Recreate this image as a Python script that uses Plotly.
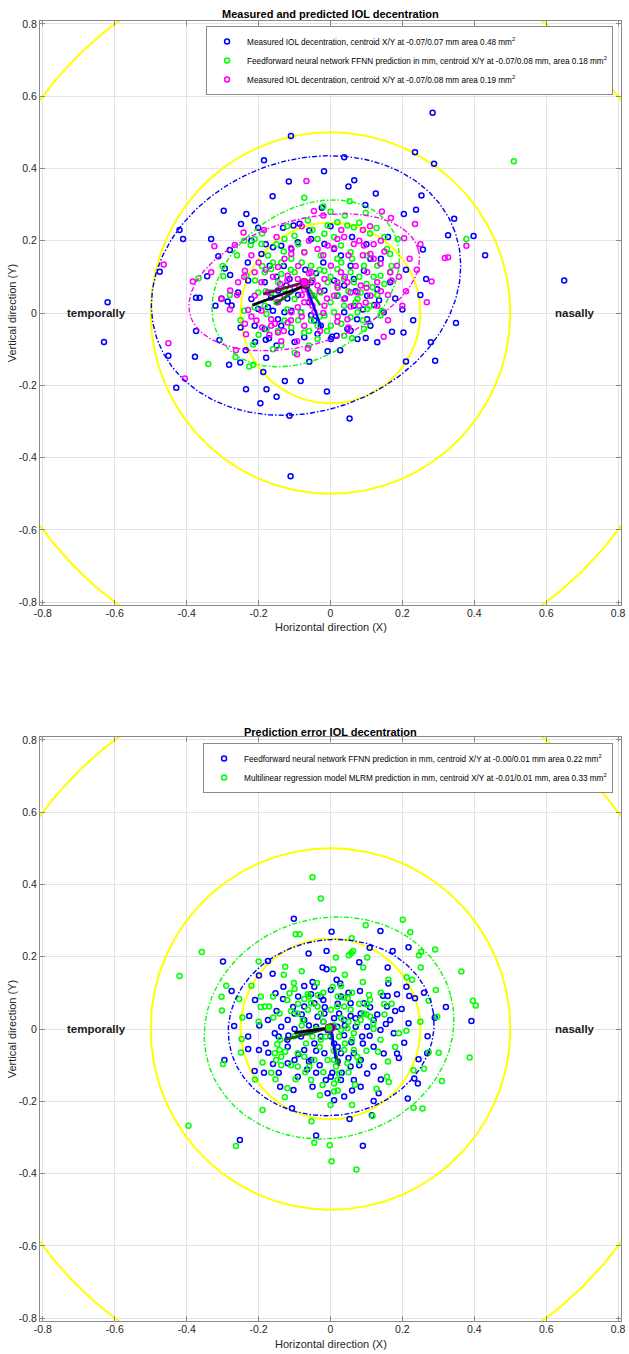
import numpy as np
import plotly.graph_objects as go

# ---------------- data ----------------
TICKS = [-0.8, -0.6, -0.4, -0.2, 0, 0.2, 0.4, 0.6, 0.8]
TICK_LABELS = ["-0.8", "-0.6", "-0.4", "-0.2", "0", "0.2", "0.4", "0.6", "0.8"]

TOP_TITLE = "Measured and predicted IOL decentration"
BOTTOM_TITLE = "Prediction error IOL decentration"

TOP_NAMES = [
    "Measured IOL decentration, centroid X/Y at -0.07/0.07 mm area 0.48 mm<sup>2</sup>",
    "Feedforward neural network FFNN prediction in mm, centroid X/Y at -0.07/0.08 mm, area 0.18 mm<sup>2</sup>",
    "Measured IOL decentration, centroid X/Y at -0.07/0.08 mm area 0.19 mm<sup>2</sup>",
]
BOTTOM_NAMES = [
    "Feedforward neural network FFNN prediction in mm, centroid X/Y at -0.00/0.01 mm area 0.22 mm<sup>2</sup>",
    "Multilinear regression model MLRM prediction in mm, centroid X/Y at -0.01/0.01 mm, area 0.33 mm<sup>2</sup>",
]

# top panel: measured (blue), FFNN prediction (green), measured (magenta)
TOP_BLUE = [
    (0.284, 0.554), (-0.110, 0.490), (0.650, 0.090), (-0.620, 0.030), (-0.630, -0.080),
    (0.430, 0.160), (-0.185, 0.423), (0.038, 0.431), (0.235, 0.445), (0.288, 0.413),
    (-0.018, 0.392), (-0.116, 0.364), (0.050, 0.350), (0.066, 0.367), (-0.161, 0.323),
    (0.126, 0.331), (0.253, 0.325), (0.097, 0.299), (-0.024, 0.291), (-0.297, 0.283),
    (-0.234, 0.274), (-0.211, 0.256), (-0.249, 0.246), (-0.201, 0.236), (-0.132, 0.236),
    (-0.103, 0.242), (-0.086, 0.247), (-0.059, 0.228), (0.204, 0.274), (0.238, 0.286),
    (0.344, 0.261), (0.327, 0.215), (0.398, 0.213), (0.257, 0.176), (-0.420, 0.230),
    (-0.410, 0.205), (-0.332, 0.205), (-0.312, 0.157), (-0.280, 0.174), (-0.475, 0.114),
    (-0.294, 0.123), (-0.343, 0.102), (-0.374, 0.042), (-0.364, 0.042), (-0.303, 0.040),
    (-0.279, 0.105), (-0.286, 0.032), (-0.275, 0.021), (-0.374, -0.050), (-0.377, -0.121),
    (-0.451, -0.118), (-0.429, -0.207), (-0.282, -0.143), (-0.251, -0.137), (-0.236, -0.103),
    (-0.309, -0.075), (-0.187, -0.163), (-0.179, -0.124), (-0.235, -0.211), (-0.178, -0.211),
    (-0.150, -0.232), (-0.195, -0.250), (-0.127, -0.188), (-0.083, -0.188), (-0.114, -0.284),
    (-0.111, -0.452), (-0.010, -0.217), (0.053, -0.292), (-0.059, -0.135), (-0.008, -0.106),
    (0.027, -0.103), (-0.180, -0.074), (-0.171, -0.070), (0.098, -0.069), (0.171, -0.052),
    (0.203, -0.054), (0.291, -0.132), (0.210, -0.134), (0.279, -0.081), (0.349, -0.028),
    (0.266, 0.094), (0.135, 0.035), (0.122, 0.022), (0.102, -0.017), (0.074, -0.017),
    (0.056, -0.049), (0.017, -0.063), (0.004, -0.066), (-0.027, -0.035), (-0.045, -0.021),
    (-0.054, -0.006), (-0.082, 0.002), (-0.109, 0.006), (-0.128, 0.002), (-0.146, -0.017),
    (-0.160, 0.006), (-0.174, 0.016), (-0.165, 0.043), (-0.146, 0.062), (-0.123, 0.076),
    (-0.114, 0.094), (-0.054, 0.085), (-0.017, 0.062), (0.019, 0.048), (0.038, 0.076),
    (0.065, 0.094), (0.093, 0.117), (0.111, 0.150), (0.056, 0.131), (0.029, 0.159),
    (0.010, 0.177), (-0.017, 0.191), (-0.054, 0.205), (-0.091, 0.196), (-0.109, 0.177),
    (-0.137, 0.186), (-0.160, 0.182), (-0.192, 0.163), (-0.169, 0.131), (-0.183, 0.085),
    (-0.229, 0.090), (-0.257, 0.057), (-0.220, 0.039), (-0.201, 0.011), (-0.211, -0.035),
    (-0.183, -0.044), (-0.137, -0.035), (-0.109, -0.054), (-0.073, -0.067), (-0.036, -0.058),
    (0.001, -0.072), (0.038, 0.002), (0.065, 0.020), (0.102, 0.048), (0.130, 0.066),
    (0.166, 0.085), (0.148, 0.002), (0.111, -0.035), (0.075, -0.072), (0.047, -0.044),
    (0.130, -0.081), (-0.060, 0.030), (-0.040, 0.110), (-0.020, 0.140), (0.010, 0.090),
    (0.040, 0.040), (0.070, 0.060), (0.090, 0.010), (-0.090, 0.050), (-0.120, 0.040),
    (-0.150, 0.100), (-0.180, 0.190), (-0.220, 0.200), (-0.130, 0.130), (-0.070, 0.120),
    (0.000, 0.240), (0.060, 0.210), (0.100, 0.190), (0.140, 0.150), (0.180, 0.040),
    (0.200, 0.010), (-0.100, -0.080), (-0.150, -0.090), (-0.210, -0.080), (-0.250, -0.040),
    (-0.320, 0.020), (-0.230, 0.140), (0.160, 0.210), (0.210, 0.120), (0.230, -0.020),
    (0.250, 0.050),
]
TOP_GREEN = [
    (0.510, 0.420), (-0.073, 0.319), (-0.020, 0.295), (0.053, 0.309), (0.098, 0.277),
    (0.128, 0.235), (0.187, 0.205), (0.157, 0.177), (0.166, 0.163), (0.378, 0.205),
    (0.166, 0.113), (0.117, 0.071), (0.143, 0.006), (0.139, -0.007), (0.093, -0.044),
    (0.056, -0.012), (-0.036, -0.072), (-0.137, -0.090), (-0.215, -0.087), (-0.264, -0.122),
    (-0.226, -0.148), (-0.215, -0.143), (-0.340, -0.141), (-0.367, 0.096), (-0.298, 0.102),
    (-0.240, 0.200), (-0.222, 0.188), (-0.211, 0.205), (-0.192, 0.191), (-0.234, 0.103),
    (-0.240, 0.006), (-0.128, 0.205), (-0.100, 0.214), (-0.063, 0.256), (-0.036, 0.205),
    (-0.017, 0.219), (0.019, 0.251), (0.047, 0.242), (0.065, 0.237), (-0.008, 0.242),
    (0.010, 0.210), (0.029, 0.187), (0.056, 0.168), (0.019, 0.150), (-0.027, 0.159),
    (-0.073, 0.168), (-0.109, 0.150), (-0.137, 0.140), (-0.165, 0.122), (-0.183, 0.113),
    (-0.137, 0.108), (-0.100, 0.113), (-0.054, 0.131), (-0.017, 0.117), (0.019, 0.122),
    (0.056, 0.113), (0.093, 0.131), (0.102, 0.159), (0.130, 0.131), (0.139, 0.103),
    (0.111, 0.048), (0.075, 0.039), (0.038, 0.020), (0.010, 0.002), (-0.017, -0.007),
    (-0.054, -0.021), (-0.082, 0.002), (-0.100, 0.039), (-0.128, 0.066), (-0.146, 0.085),
    (-0.165, 0.057), (-0.183, 0.020), (-0.201, 0.057), (-0.174, 0.159), (-0.045, 0.048),
    (-0.027, 0.057), (-0.008, 0.085), (0.019, 0.076), (0.038, 0.094), (0.065, 0.085),
    (0.084, 0.057), (-0.036, -0.035), (-0.073, -0.054), (0.001, -0.035), (0.038, -0.063),
    (0.075, 0.002), (0.102, 0.011), (-0.211, 0.016), (-0.178, -0.003), (-0.128, -0.021),
    (-0.109, -0.040), (-0.146, -0.049), (-0.178, -0.044), (-0.050, 0.100), (-0.030, 0.120),
    (0.000, 0.100), (0.030, 0.140), (0.060, 0.150), (0.080, 0.100), (0.100, 0.080),
    (0.120, 0.100), (-0.080, 0.140), (-0.110, 0.120), (-0.130, 0.170), (-0.150, 0.190),
    (-0.160, 0.140), (-0.190, 0.130), (-0.210, 0.090), (-0.180, 0.060), (-0.150, 0.030),
    (-0.120, 0.010), (-0.090, -0.020), (-0.060, -0.050), (-0.030, -0.010), (0.000, 0.030),
    (0.020, 0.050), (0.050, 0.060), (0.070, 0.030), (0.090, -0.020), (0.110, 0.020),
    (0.130, 0.050), (0.150, 0.080), (0.170, 0.130), (0.150, 0.210), (0.110, 0.220),
    (0.080, 0.250), (0.040, 0.270), (0.000, 0.280), (-0.050, 0.230), (-0.090, 0.190),
    (-0.120, 0.240), (-0.190, 0.220), (-0.260, 0.160), (-0.280, 0.050), (-0.250, -0.020),
    (-0.200, -0.060), (-0.160, -0.100), (-0.100, -0.110), (-0.060, -0.090), (-0.010, -0.050),
    (0.030, -0.030), (0.060, -0.070), (-0.300, 0.130),
]
TOP_MAGENTA = [
    (-0.067, 0.365), (-0.046, 0.282), (0.143, 0.281), (0.168, 0.263), (0.235, 0.246),
    (0.205, 0.207), (0.378, 0.186), (0.318, 0.152), (0.327, 0.154), (0.281, 0.087),
    (0.268, 0.030), (0.148, -0.066), (-0.464, 0.134), (-0.323, 0.185), (-0.332, 0.113),
    (-0.383, 0.087), (-0.266, 0.188), (-0.242, 0.223), (-0.185, 0.230), (-0.304, 0.039),
    (-0.279, 0.062), (-0.451, -0.084), (-0.405, -0.181), (-0.263, -0.103), (-0.235, -0.059),
    (-0.229, 0.008), (-0.206, -0.021), (-0.137, -0.078), (-0.093, -0.078), (-0.063, -0.098),
    (-0.093, -0.114), (-0.029, -0.050), (0.019, -0.024), (0.056, 0.018), (0.098, 0.029),
    (0.075, 0.057), (0.047, 0.085), (0.029, 0.113), (0.001, 0.131), (-0.017, 0.094),
    (-0.036, 0.076), (-0.054, 0.048), (-0.073, 0.030), (-0.091, 0.016), (-0.109, 0.002),
    (-0.128, 0.048), (-0.146, 0.030), (-0.165, -0.017), (-0.155, -0.030), (-0.174, 0.057),
    (-0.192, 0.085), (-0.211, 0.113), (-0.146, 0.127), (-0.128, 0.150), (-0.109, 0.163),
    (-0.073, 0.168), (-0.036, 0.177), (-0.008, 0.187), (0.019, 0.205), (0.038, 0.210),
    (0.065, 0.191), (0.093, 0.187), (0.111, 0.163), (0.120, 0.150), (0.139, 0.136),
    (0.166, 0.113), (0.185, 0.131), (0.102, 0.113), (0.130, 0.085), (0.019, 0.085),
    (-0.054, 0.113), (-0.091, 0.094), (-0.119, 0.103), (-0.073, 0.066), (-0.017, 0.020),
    (0.010, 0.048), (0.038, 0.039), (0.056, 0.057), (0.084, 0.076), (0.111, 0.048),
    (-0.146, -0.054), (-0.119, -0.026), (-0.165, -0.035), (0.047, -0.017), (-0.073, -0.035),
    (-0.045, 0.002), (-0.257, 0.085), (-0.238, 0.117), (-0.211, 0.048), (-0.192, 0.006),
    (-0.238, -0.030), (0.190, 0.100), (0.160, 0.050), (0.200, 0.020), (0.220, 0.150),
    (0.140, 0.200), (0.090, 0.230), (-0.050, 0.090), (-0.030, 0.060), (-0.010, 0.040),
    (0.020, 0.070), (0.040, 0.100), (0.070, 0.130), (0.090, 0.160), (0.120, 0.190),
    (0.150, 0.170), (0.170, 0.090), (0.140, 0.060), (0.100, 0.070), (0.080, 0.020),
    (0.050, -0.040), (0.020, -0.010), (-0.020, 0.000), (-0.050, 0.020), (-0.080, 0.050),
    (-0.100, 0.070), (-0.120, 0.090), (-0.140, 0.080), (-0.160, 0.100), (-0.180, 0.120),
    (-0.200, 0.140), (-0.220, 0.160), (-0.240, 0.100), (-0.260, 0.050), (-0.280, 0.010),
    (-0.220, -0.010), (-0.190, -0.040), (-0.170, -0.060), (-0.130, -0.050), (-0.110, -0.020),
    (-0.080, -0.010), (-0.060, 0.110), (-0.090, 0.130), (-0.110, 0.180), (-0.150, 0.210),
    (-0.060, 0.200), (-0.020, 0.160), (0.010, 0.180), (0.050, 0.160), (0.080, 0.200),
    (0.110, 0.240), (0.030, 0.230), (-0.080, 0.240), (-0.020, 0.270), (0.130, 0.020),
    (0.160, -0.020), (0.210, 0.060), (0.240, 0.120), (0.250, 0.190),
]

# bottom panel: prediction errors FFNN (blue), MLRM (green)
BOTTOM_BLUE = [
    (-0.102, 0.305), (0.003, 0.269), (0.139, 0.271), (0.109, 0.225), (0.173, 0.216),
    (0.217, 0.226), (-0.299, 0.187), (-0.174, 0.188), (-0.199, 0.148), (-0.161, 0.153),
    (-0.061, 0.209), (-0.011, 0.216), (-0.022, 0.170), (-0.011, 0.165), (0.080, 0.185),
    (0.159, 0.170), (-0.275, 0.105), (-0.268, 0.008), (-0.295, -0.086), (-0.226, 0.036),
    (-0.198, 0.010), (-0.229, -0.055), (-0.199, -0.058), (-0.211, -0.116), (-0.185, -0.121),
    (-0.144, -0.121), (-0.160, -0.097), (-0.132, 0.083), (-0.104, 0.061), (-0.131, 0.117),
    (-0.153, 0.099), (-0.054, 0.096), (-0.073, 0.119), (-0.045, 0.117), (0.017, 0.136),
    (0.027, 0.126), (0.082, 0.105), (0.161, 0.126), (0.146, 0.092), (0.159, 0.091),
    (0.185, 0.096), (0.211, 0.117), (0.219, 0.091), (0.235, 0.085), (0.321, 0.061),
    (0.392, 0.022), (0.290, 0.031), (0.198, 0.055), (0.217, 0.016), (0.154, 0.014),
    (0.205, -0.038), (0.185, -0.068), (0.148, -0.068), (0.269, -0.067), (0.245, -0.084),
    (0.233, -0.137), (0.243, -0.151), (0.215, -0.192), (0.134, -0.178), (0.120, -0.199),
    (0.115, -0.239), (0.090, -0.323), (0.053, -0.249), (-0.040, -0.295), (-0.252, -0.307),
    (-0.107, -0.219), (-0.103, -0.169), (-0.173, -0.066), (-0.144, -0.021), (-0.117, -0.018),
    (-0.065, -0.112), (-0.040, -0.121), (0.005, -0.121), (0.031, -0.121), (-0.013, -0.141),
    (0.001, -0.132), (0.058, -0.037), (0.038, -0.017), (0.088, -0.021), (0.109, -0.019),
    (0.070, 0.006), (0.056, 0.036), (0.024, 0.043), (0.010, 0.030), (-0.016, 0.060),
    (-0.040, 0.006), (-0.073, 0.025), (-0.082, -0.021), (-0.045, -0.040), (-0.017, -0.067),
    (-0.027, -0.021), (0.010, -0.040), (0.029, -0.067), (0.065, -0.067), (0.084, -0.086),
    (0.120, -0.049), (0.139, -0.003), (0.120, 0.025), (0.102, 0.006), (0.084, 0.043),
    (0.056, 0.071), (0.029, 0.090), (0.001, 0.108), (-0.027, 0.090), (-0.045, 0.071),
    (-0.073, 0.062), (-0.100, 0.043), (-0.119, 0.025), (-0.137, 0.006), (-0.155, -0.012),
    (-0.119, -0.049), (-0.100, -0.086), (-0.073, -0.058), (-0.054, -0.086), (-0.008, -0.003),
    (0.019, 0.006), (0.038, 0.025), (-0.036, 0.034), (-0.017, 0.043), (0.093, 0.071),
    (0.157, 0.062), (0.120, -0.104), (0.102, -0.123), (0.056, -0.104), (0.029, -0.141),
    (-0.008, -0.178), (0.010, -0.197), (-0.091, -0.132), (-0.119, -0.095), (-0.174, 0.025),
    (-0.229, -0.021), (0.065, -0.141), (0.084, -0.160), (0.038, -0.187), (0.176, -0.012),
    (0.166, 0.025), (-0.060, 0.010), (-0.040, -0.060), (-0.020, 0.020), (0.000, -0.020),
    (0.020, -0.050), (0.040, 0.010), (0.070, 0.030), (0.090, -0.040), (0.110, 0.060),
    (0.130, 0.040), (-0.080, 0.040), (-0.100, 0.000), (-0.120, -0.030), (-0.090, -0.070),
    (-0.060, -0.090), (-0.030, -0.100), (0.020, -0.090), (0.050, -0.080), (0.080, -0.100),
    (-0.020, 0.080), (0.020, 0.070), (0.050, 0.100), (-0.050, 0.130), (-0.090, 0.090),
    (-0.150, 0.050), (-0.180, -0.040), (-0.210, 0.080), (0.180, 0.050), (0.190, -0.080),
    (0.140, -0.140), (0.060, -0.170), (-0.050, -0.160), (-0.140, -0.160), (0.260, 0.100),
    (0.270, -0.020),
]
BOTTOM_GREEN = [
    (-0.050, 0.420), (-0.027, 0.361), (-0.420, 0.147), (-0.395, -0.268), (-0.358, 0.213),
    (-0.097, 0.262), (-0.086, 0.262), (0.059, 0.251), (0.098, 0.287), (0.201, 0.302),
    (0.222, 0.268), (0.291, 0.220), (0.252, 0.213), (0.246, 0.204), (0.063, 0.216),
    (0.058, 0.210), (0.051, 0.204), (0.015, 0.198), (0.102, 0.198), (0.091, 0.170),
    (0.008, 0.165), (-0.126, 0.172), (-0.200, 0.187), (-0.290, 0.120), (-0.303, 0.089),
    (-0.254, 0.083), (-0.302, 0.051), (-0.245, 0.032), (-0.247, -0.028), (-0.249, -0.065),
    (-0.299, -0.097), (-0.189, -0.093), (-0.165, -0.121), (-0.153, -0.139), (-0.097, -0.139),
    (-0.120, -0.164), (-0.127, -0.189), (-0.189, -0.224), (-0.263, -0.324), (-0.053, -0.255),
    (-0.045, -0.315), (-0.002, -0.322), (0.003, -0.366), (0.072, -0.389), (0.117, -0.241),
    (0.010, -0.173), (-0.029, -0.183), (-0.022, -0.155), (0.068, -0.154), (0.128, -0.165),
    (0.157, -0.132), (0.162, -0.147), (0.231, -0.114), (0.256, -0.220), (0.231, -0.218),
    (0.310, -0.144), (0.387, -0.079), (0.301, -0.066), (0.273, -0.064), (0.396, 0.078),
    (0.404, 0.065), (0.364, 0.159), (0.293, 0.108), (0.273, 0.078), (0.297, 0.034),
    (0.212, 0.143), (0.227, 0.136), (0.251, 0.170), (0.161, 0.136), (0.149, 0.069),
    (0.190, -0.012), (0.211, -0.005), (0.150, 0.040), (0.139, -0.030), (0.132, -0.063),
    (0.107, 0.094), (0.110, 0.080), (0.102, 0.068), (0.048, 0.085), (0.038, 0.087),
    (0.029, 0.119), (0.006, 0.116), (-0.038, 0.127), (-0.035, 0.094), (-0.063, 0.096),
    (-0.073, 0.083), (-0.102, 0.127), (-0.100, 0.111), (-0.114, 0.099), (-0.120, 0.080),
    (-0.194, 0.090), (-0.194, 0.061), (-0.183, 0.062), (-0.171, 0.062), (-0.159, 0.032),
    (-0.142, 0.043), (-0.148, -0.042), (-0.142, -0.058), (-0.155, -0.067), (-0.137, -0.077),
    (-0.126, -0.063), (-0.091, -0.067), (-0.068, -0.040), (-0.050, -0.021), (-0.027, -0.030),
    (-0.013, -0.021), (0.024, -0.021), (0.029, -0.003), (0.047, 0.002), (0.065, -0.012),
    (0.074, 0.016), (0.084, 0.025), (0.093, 0.043), (0.111, 0.034), (0.119, 0.016),
    (0.010, -0.086), (0.015, -0.104), (0.024, -0.123), (0.019, -0.141), (0.010, -0.151),
    (0.047, -0.095), (0.065, -0.058), (0.074, -0.077), (0.038, -0.058), (-0.008, -0.086),
    (-0.045, -0.086), (-0.073, -0.077), (-0.091, -0.104), (-0.059, -0.104), (-0.054, -0.141),
    (-0.077, 0.025), (-0.091, 0.043), (-0.063, 0.053), (-0.054, 0.071), (-0.036, 0.062),
    (-0.027, 0.043), (0.001, 0.053), (0.019, 0.062), (0.038, 0.062), (0.056, 0.053),
    (-0.151, -0.086), (-0.137, -0.100), (-0.040, 0.000), (-0.020, 0.020), (0.010, 0.010),
    (0.030, 0.030), (0.050, 0.020), (0.060, -0.030), (0.040, -0.040), (0.010, -0.060),
    (-0.030, -0.050), (-0.060, -0.010), (-0.080, 0.010), (-0.100, -0.020), (-0.110, 0.050),
    (-0.090, 0.070), (-0.060, 0.090), (-0.020, 0.100), (0.020, 0.090), (0.060, 0.100),
    (0.080, 0.070), (0.100, 0.040), (0.120, 0.000), (0.100, -0.060), (0.080, -0.090),
    (0.050, -0.120), (0.020, -0.170), (-0.020, -0.120), (-0.070, -0.120), (-0.110, -0.100),
    (-0.140, -0.030), (-0.160, 0.090), (-0.130, 0.150), (-0.080, 0.160), (0.040, 0.150),
    (0.090, 0.130), (0.140, 0.100), (0.170, 0.070), (0.180, -0.050), (0.160, -0.090),
    (-0.200, 0.020), (-0.220, 0.120), (0.250, 0.020), (0.260, -0.110), (-0.210, -0.140),
    (0.000, -0.210), (0.060, -0.210),
]

# fitted ellipses (centre, semi-axes, tilt)
TOP_CENTRES = [(-0.068, 0.076), (-0.069, 0.082), (-0.073, 0.085)]
TOP_SEMI_MAJOR = [0.440, 0.283, 0.330]
TOP_SEMI_MINOR = [0.347, 0.203, 0.173]
TOP_TILT_DEG = [20, 34, 16]
BOTTOM_CENTRES = [(0.002, 0.004), (-0.004, 0.003)]
BOTTOM_SEMI_MAJOR = [0.287, 0.350]
BOTTOM_SEMI_MINOR = [0.243, 0.304]
BOTTOM_TILT_DEG = [8, 15]
AXIS_VECTOR_SCALE = 0.36

REFERENCE_RADII = [0.25, 0.5, 1.0]

TOP_COLORS = ["#0000ff", "#00ff00", "#ff00ff"]
BOTTOM_COLORS = ["#0000ff", "#00ff00"]
TOP_MAJOR_COLORS = ["#000022", "#1a6a1a", "#6a1248"]
TOP_MINOR_COLORS = ["#0000ff", "#00c000", "#e000e0"]
BOTTOM_MAJOR_COLORS = ["#000010", "#1a5a1a"]
BOTTOM_MINOR_COLORS = ["#0000ff", "#1a7a1a"]

# ---------------- figure ----------------
W, H = 629, 1354
ML, MR, MT, MB = 40, 3, 21, 33
PH = H - MT - MB
PW = W - ML - MR
AX_H = 584


def py2paper(py):
    return (H - MB - py) / PH


def px2paper(px):
    return (px - ML) / PW


fig = go.Figure()


def ellipse(c, a, b, tilt):
    t = np.linspace(0, 2 * np.pi, 241)
    th = np.deg2rad(tilt)
    ex = a * np.cos(t)
    ey = b * np.sin(t)
    return c[0] + ex * np.cos(th) - ey * np.sin(th), c[1] + ex * np.sin(th) + ey * np.cos(th)


def add_panel(xa, ya, series, names, colors, centres, amaj, amin, tilts,
              major_cols, minor_cols, legend):
    t = np.linspace(0, 2 * np.pi, 361)
    for r in REFERENCE_RADII:
        fig.add_trace(go.Scatter(x=r * np.cos(t), y=r * np.sin(t), mode="lines",
                                 line=dict(color="#ffff00", width=2), showlegend=False,
                                 hoverinfo="skip", xaxis=xa, yaxis=ya))
    for pts, name, col in zip(series, names, colors):
        arr = np.array(pts)
        fig.add_trace(go.Scatter(x=arr[:, 0], y=arr[:, 1], mode="markers", name=name,
                                 marker=dict(symbol="circle-open", size=5, color=col,
                                             line=dict(width=1.5, color=col)),
                                 legend=legend, xaxis=xa, yaxis=ya))
    for c, a, b, tl, col in zip(centres, amaj, amin, tilts, colors):
        ex, ey = ellipse(c, a, b, tl)
        fig.add_trace(go.Scatter(x=ex, y=ey, mode="lines", showlegend=False,
                                 line=dict(color=col, width=1.4, dash="5px,2px,1.5px,2px"),
                                 hoverinfo="skip", xaxis=xa, yaxis=ya))
    items = list(zip(centres, amaj, amin, tilts, major_cols, minor_cols))
    for c, a, b, tl, cmaj, cmin in reversed(items):
        th = np.deg2rad(tl)
        la, lb = a * AXIS_VECTOR_SCALE, b * AXIS_VECTOR_SCALE
        fig.add_trace(go.Scatter(x=[c[0], c[0] + lb * np.sin(th)], y=[c[1], c[1] - lb * np.cos(th)],
                                 mode="lines", line=dict(color=cmin, width=2.4), showlegend=False,
                                 hoverinfo="skip", xaxis=xa, yaxis=ya))
        fig.add_trace(go.Scatter(x=[c[0], c[0] - la * np.cos(th)], y=[c[1], c[1] - la * np.sin(th)],
                                 mode="lines", line=dict(color=cmaj, width=2.8), showlegend=False,
                                 hoverinfo="skip", xaxis=xa, yaxis=ya))
    for c, col in zip(centres, colors):
        fig.add_trace(go.Scatter(x=[c[0]], y=[c[1]], mode="markers", showlegend=False,
                                 marker=dict(size=8, color=col, line=dict(width=1, color="#c00060")),
                                 hoverinfo="skip", xaxis=xa, yaxis=ya))


add_panel("x", "y", [TOP_BLUE, TOP_GREEN, TOP_MAGENTA], TOP_NAMES, TOP_COLORS, TOP_CENTRES,
          TOP_SEMI_MAJOR, TOP_SEMI_MINOR, TOP_TILT_DEG, TOP_MAJOR_COLORS, TOP_MINOR_COLORS, "legend")
add_panel("x2", "y2", [BOTTOM_BLUE, BOTTOM_GREEN], BOTTOM_NAMES, BOTTOM_COLORS, BOTTOM_CENTRES,
          BOTTOM_SEMI_MAJOR, BOTTOM_SEMI_MINOR, BOTTOM_TILT_DEG, BOTTOM_MAJOR_COLORS,
          BOTTOM_MINOR_COLORS, "legend2")

FONT = "Liberation Sans, Arial, Helvetica, sans-serif"
RNG = [-0.808, 0.808]
axis_common = dict(range=RNG, tickvals=TICKS, ticktext=TICK_LABELS, showgrid=True,
                   gridcolor="#e3e3e3", gridwidth=1, zeroline=False, showline=True,
                   linecolor="#8a8a8a", linewidth=1, mirror="allticks", ticks="inside",
                   ticklen=5, tickcolor="#8a8a8a", ticklabeloverflow="allow",
                   tickfont=dict(size=10.5, color="#262626", family=FONT),
                   fixedrange=True)

top_dom = [1 - AX_H / PH, 1]
bot_dom = [0, AX_H / PH]

legend_common = dict(xanchor="right", yanchor="top", bgcolor="white", bordercolor="#8a8a8a",
                     borderwidth=1, font=dict(size=8.2, family=FONT, color="#000000"),
                     itemsizing="trace", tracegroupgap=0, itemwidth=30)

fig.update_layout(
    width=W, height=H, margin=dict(l=ML, r=MR, t=MT, b=MB),
    paper_bgcolor="white", plot_bgcolor="white",
    font=dict(family=FONT, color="#000000"),
    xaxis=dict(domain=[0, 1], anchor="y", ticklabelstandoff=-2, **axis_common),
    yaxis=dict(domain=top_dom, anchor="x", **axis_common),
    xaxis2=dict(domain=[0, 1], anchor="y2", ticklabelstandoff=-2, **axis_common),
    yaxis2=dict(domain=bot_dom, anchor="x2", **axis_common),
    legend=dict(x=px2paper(618), y=py2paper(26), **legend_common),
    legend2=dict(x=px2paper(618), y=py2paper(743), **legend_common),
    showlegend=True,
)


def label(text, px, py, size, color, angle=0):
    return dict(text=text, x=px2paper(px), y=py2paper(py), xref="paper", yref="paper",
                xanchor="center", yanchor="middle", showarrow=False, textangle=angle,
                font=dict(size=size, family=FONT, color=color))


ann = [
    label("<b>" + TOP_TITLE + "</b>", 333, 14, 11, "#000"),
    label("<b>" + BOTTOM_TITLE + "</b>", 333, 732, 11, "#000"),
    label("Horizontal direction (X)", 333, 627, 11, "#262626"),
    label("Horizontal direction (X)", 333, 1344, 11, "#262626"),
    label("Vertical direction (Y)", 12, 313, 11, "#262626", -90),
    label("Vertical direction (Y)", 12, 1029, 11, "#262626", -90),
]
for xr, yr in (("x", "y"), ("x2", "y2")):
    ann.append(dict(text="<b>temporally</b>", x=-0.652, y=0, xref=xr, yref=yr, showarrow=False,
                    xanchor="center", yanchor="middle",
                    font=dict(size=11.5, family=FONT, color="#1a1a1a")))
    ann.append(dict(text="<b>nasally</b>", x=0.68, y=0, xref=xr, yref=yr, showarrow=False,
                    xanchor="center", yanchor="middle",
                    font=dict(size=11.5, family=FONT, color="#1a1a1a")))
fig.update_layout(annotations=ann)

fig.write_html("out.html")
